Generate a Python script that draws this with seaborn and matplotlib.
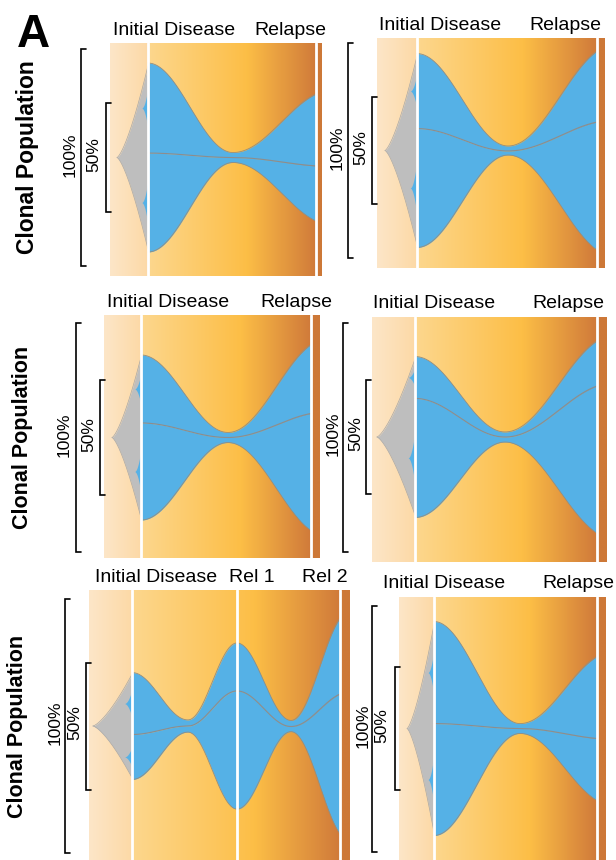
import numpy as np
import matplotlib
matplotlib.use("Agg")
import matplotlib.pyplot as plt
from matplotlib.transforms import blended_transform_factory
import seaborn as sns

# ---------------- data (time in % of panel width, clone sizes in % of population) ----
p1_times = [17.9, 58.0, 97.2]
p1_upper = [41.7, 2.3, 33.3]
p1_lower = [45.8, 2.3, 25.5]
p1_labels = ["Initial Disease", "Relapse"]

p2_times = [17.5, 57.5, 96.5]
p2_upper = [34.9, 2.3, 33.0]
p2_lower = [55.3, 1.9, 59.5]
p2_labels = ["Initial Disease", "Relapse"]

p3_times = [17.1, 57.4, 95.8]
p3_upper = [29.7, 2.2, 30.1]
p3_lower = [42.4, 2.2, 51.1]
p3_labels = ["Initial Disease", "Relapse"]

p4_times = [18.3, 56.6, 95.7]
p4_upper = [18.3, 2.2, 19.7]
p4_lower = [52.0, 2.2, 64.2]
p4_labels = ["Initial Disease", "Relapse"]

p5_times = [16.5, 37.9, 56.7, 77.4, 96.2]
p5_upper = [24.4, 2.4, 18.9, 2.4, 29.9]
p5_lower = [17.7, 2.4, 46.5, 2.0, 55.1]
p5_labels = ["Initial Disease", "Rel 1", "Rel 2"]

p6_times = [16.9, 58.5, 95.7]
p6_upper = [41.5, 2.0, 33.3]
p6_lower = [45.5, 2.0, 25.2]
p6_labels = ["Initial Disease", "Relapse"]

gray_start = [3.3, 3.5, 3.7, 2.1, 1.5, 3.9]
sampled_idx = [[0, 2], [0, 2], [0, 2], [0, 2], [0, 2, 4], [0, 2]]

# ---------------- layout (pixels) -------------------------------------------------
W, H = 616, 860
panels = [
    dict(times=p1_times, up=p1_upper, lo=p1_lower, labels=p1_labels,
         box=(110, 322, 43, 276), center=157.5, scale=2.16,
         b100=81, b50=106, l100=70, l50=93.5,
         tx=[174.5, 290], ty=35, clonal=(27.5, 16.5)),
    dict(times=p2_times, up=p2_upper, lo=p2_lower, labels=p2_labels,
         box=(377, 605, 38, 268), center=150.5, scale=2.15,
         b100=348, b50=372, l100=337, l50=361,
         tx=[440, 565], ty=29.5, clonal=None),
    dict(times=p3_times, up=p3_upper, lo=p3_lower, labels=p3_labels,
         box=(104, 320, 315, 558), center=437.5, scale=2.29,
         b100=76, b50=100, l100=64, l50=88.5,
         tx=[168.5, 296], ty=307, clonal=(22.5, 15.5)),
    dict(times=p4_times, up=p4_upper, lo=p4_lower, labels=p4_labels,
         box=(372, 607, 317, 562), center=437.0, scale=2.29,
         b100=343, b50=366, l100=333, l50=356,
         tx=[434, 568], ty=308, clonal=None),
    dict(times=p5_times, up=p5_upper, lo=p5_lower, labels=p5_labels,
         box=(89, 350, 590, 860), center=726.0, scale=2.54,
         b100=65, b50=86, l100=55, l50=75,
         tx=[156, 252, 325], ty=582, clonal=(17.5, 15.5)),
    dict(times=p6_times, up=p6_upper, lo=p6_lower, labels=p6_labels,
         box=(399, 606, 597, 860), center=728.5, scale=2.46,
         b100=372, b50=395, l100=363, l50=382,
         tx=[444, 578], ty=588, clonal=None),
]

BLUE = "#55b1e6"
GRAY = "#bebebe"
EDGE = "#948e80"
MIDC = "#8d8d8d"

sns.set_theme(style="white")
plt.rcParams["font.family"] = ["Liberation Sans", "DejaVu Sans"]

fig = plt.figure(figsize=(W / 100, H / 100), dpi=100)
fig.patch.set_facecolor("white")

over = fig.add_axes([0, 0, 1, 1], zorder=10)
over.set_xlim(0, W)
over.set_ylim(H, 0)
over.axis("off")
over.patch.set_alpha(0)


def ease_seg(s, last):
    if last:
        k = 0.85
        return (1 - np.cos(np.pi * k * s)) / (1 - np.cos(np.pi * k))
    return (1 - np.cos(np.pi * s)) / 2


def smooth(times, vals, xs):
    out = np.zeros_like(xs)
    n = len(times)
    for i in range(n - 1):
        t0, t1 = times[i], times[i + 1]
        m = (xs >= t0) & (xs <= t1)
        s = (xs[m] - t0) / (t1 - t0)
        out[m] = vals[i] + (vals[i + 1] - vals[i]) * ease_seg(s, i == n - 2)
    return out


def gradient_colors(xg, t0, t1):
    stops_l = np.array([[253, 230, 200], [252, 217, 166]]) / 255
    stops_m = np.array([[253, 215, 142], [252, 190, 70], [208, 122, 58]]) / 255
    bar = np.array([205, 120, 55]) / 255
    cols = np.zeros((len(xg), 3))
    for j, x in enumerate(xg):
        if x < t0:
            f = x / t0
            cols[j] = stops_l[0] * (1 - f) + stops_l[1] * f
        elif x <= t1:
            f = (x - t0) / (t1 - t0)
            pk = 0.59
            if f < pk:
                g = f / pk
                cols[j] = stops_m[0] * (1 - g) + stops_m[1] * g
            else:
                g = (f - pk) / (1 - pk)
                cols[j] = stops_m[1] * (1 - g) + stops_m[2] * g
        else:
            cols[j] = bar
    return cols


for k, p in enumerate(panels):
    L, R, T, B = p["box"]
    ax = fig.add_axes([L / W, 1 - B / H, (R - L) / W, (B - T) / H])
    c, sc = p["center"], p["scale"]
    ax.set_xlim(0, 100)
    ax.set_ylim((c - B) / sc, (c - T) / sc)
    ax.axis("off")

    times = p["times"]
    up = np.array(p["up"])
    lo = np.array(p["lo"])
    top_k = (up + lo) / 2
    mid_k = top_k - up
    bot_k = -top_k

    # background gradient
    xg = np.linspace(0, 100, 600)
    img = gradient_colors(xg, times[0], times[-1])[None, :, :]
    ylo, yhi = ax.get_ylim()
    ax.imshow(img, extent=[0, 100, ylo, yhi], aspect="auto", zorder=0,
              interpolation="bilinear")

    # founding (gray) population
    tg = gray_start[k]
    xs_g = np.linspace(tg, times[0], 200)
    sg = (xs_g - tg) / (times[0] - tg)
    half = top_k[0] * 0.97 * sg ** 1.4
    ax.fill_between(xs_g, -half, half, color=GRAY, lw=0, zorder=2)
    ax.plot(xs_g, half, color="#a8a8a8", lw=0.5, zorder=2)
    ax.plot(xs_g, -half, color="#a8a8a8", lw=0.5, zorder=2)

    # emerging subclones inside gray
    te = times[0] - 3.0
    xs_e = np.linspace(te, times[0], 60)
    se = ((xs_e - te) / (times[0] - te)) ** 2
    for a, b in [(top_k[0], mid_k[0]), (mid_k[0], bot_k[0])]:
        ye = (a + b) / 2
        hi = ye + (a - ye) * 0.45 * se
        lo_ = ye + (b - ye) * 0.45 * se
        ax.fill_between(xs_e, lo_, hi, color=BLUE, lw=0, zorder=3)

    # subclones (blue)
    xs = np.linspace(times[0], times[-1], 600)
    top = smooth(times, top_k, xs)
    mid = smooth(times, mid_k, xs)
    bot = smooth(times, bot_k, xs)
    ax.fill_between(xs, mid, top, color=BLUE, lw=0, zorder=3)
    ax.fill_between(xs, bot, mid, color=BLUE, lw=0, zorder=3)
    sns.lineplot(x=xs, y=top, ax=ax, color=EDGE, lw=0.6, zorder=4)
    sns.lineplot(x=xs, y=bot, ax=ax, color=EDGE, lw=0.6, zorder=4)
    sns.lineplot(x=xs, y=mid, ax=ax, color=MIDC, lw=0.8, zorder=4)

    # sample time markers
    for i in sampled_idx[k]:
        ax.axvline(times[i], color="white", lw=2.0, zorder=5)

    # brackets (100% and 50%)
    tr = blended_transform_factory(over.transData, ax.transData)
    for bx, hh in [(p["b100"], 50), (p["b50"], 25)]:
        over.plot([bx + 5, bx, bx, bx + 5], [hh, hh, -hh, -hh], color="black",
                  lw=1.2, transform=tr, clip_on=False, solid_joinstyle="miter")
    over.text(p["l100"], c - 3, "100%", rotation=90, ha="center", va="center",
              fontsize=12.5, color="black")
    over.text(p["l50"], c - 3, "50%", rotation=90, ha="center", va="center",
              fontsize=12.5, color="black")

    # time labels
    for lab, x in zip(p["labels"], p["tx"]):
        over.text(x, p["ty"], lab, ha="center", va="baseline", fontsize=14,
                  color="black")

    if p["clonal"] is not None:
        cx, fs = p["clonal"]
        over.text(cx, c, "Clonal Population", rotation=90, ha="center",
                  va="center", fontsize=fs, fontweight="bold", color="black")

over.text(33, 47, "A", ha="center", va="baseline", fontsize=33,
          fontweight="bold", color="black")

fig.savefig("out.png", dpi=100, facecolor="white")
